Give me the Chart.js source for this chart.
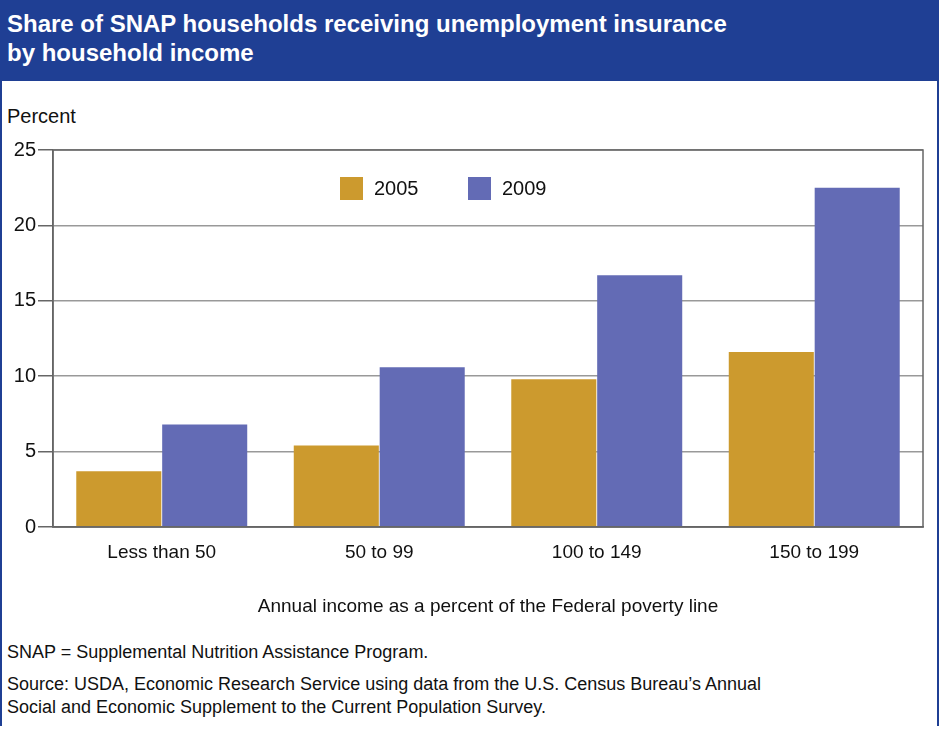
<!DOCTYPE html><html><head><meta charset="utf-8">
<script src="https://cdn.jsdelivr.net/npm/chart.js@4"></script>
<style>
body{margin:0;width:939px;height:730px;position:relative;font-family:"Liberation Sans",Arial,sans-serif;overflow:hidden;background:#fff}
#frame{position:absolute;left:0;top:0;width:935px;height:726px;border:2px solid #1f3f94;border-top:none;border-bottom:none}
#hdr{position:absolute;left:0;top:0;width:939px;height:81px;background:#1f3f94;color:#fff;font-weight:bold;font-size:24px;line-height:29px;box-sizing:border-box;padding:9px 0 0 7px}
.t{position:absolute;left:7px;font-size:18px;color:#111}
#wrap{position:absolute;left:0;top:82px;width:939px;height:540px}
</style></head><body>
<div id="frame"></div>
<div id="hdr">Share of SNAP households receiving unemployment insurance<br>by household income</div>
<div class="t" style="top:105px;font-size:20px">Percent</div>
<div id="wrap"><canvas id="c"></canvas></div>
<div class="t" style="top:642px">SNAP = Supplemental Nutrition Assistance Program.</div>
<div class="t" style="top:673px;line-height:23px">Source: USDA, Economic Research Service using data from the U.S. Census Bureau’s Annual<br>Social and Economic Supplement to the Current Population Survey.</div>
<script>
const categories=["Less than 50","50 to 99","100 to 149","150 to 199"];
const series2005=[3.7,5.4,9.8,11.6];
const series2009=[6.8,10.6,16.7,22.5];
const yTicks=[0,5,10,15,20,25];
const legendPlugin={id:'lg',afterDraw(ch){const c=ch.ctx,a=ch.chartArea;c.save();
c.strokeStyle='#666';c.lineWidth=1.5;c.strokeRect(a.left,a.top,a.right-a.left,a.bottom-a.top);
const items=[[340,ch.data.datasets[0]],[468,ch.data.datasets[1]]];
c.font='20px "Liberation Sans",Arial';c.textBaseline='middle';
items.forEach(([x,d])=>{c.fillStyle=d.backgroundColor;c.fillRect(x,a.top+27,23,23);c.fillStyle='#111';c.fillText(d.label,x+34,a.top+39);});
c.restore();}};
new Chart(document.getElementById('c'),{type:'bar',
data:{labels:categories,datasets:[{label:'2005',data:series2005,backgroundColor:'#cc9a2e'},{label:'2009',data:series2009,backgroundColor:'#636bb5'}]},
options:{responsive:true,maintainAspectRatio:false,animation:false,
layout:{padding:{top:68,right:16,left:0,bottom:0}},
categoryPercentage:0.79,barPercentage:0.99,
plugins:{legend:{display:false},tooltip:{enabled:false}},
scales:{
x:{grid:{display:false},border:{color:'#666',width:1.5},ticks:{color:'#111',font:{size:19},padding:6},
 title:{display:true,text:'Annual income as a percent of the Federal poverty line',color:'#111',font:{size:19},padding:{top:18}},
 afterFit(s){s.height=95;}},
y:{min:0,max:25,afterBuildTicks(s){s.ticks=yTicks.map(v=>({value:v}));},
 grid:{color:'#999',lineWidth:1.5,tickLength:15,tickColor:'#666'},border:{color:'#666',width:1.5},
 ticks:{color:'#111',font:{size:20},padding:2},afterFit(s){s.width=53;}}
}},plugins:[legendPlugin]});
</script></body></html>
